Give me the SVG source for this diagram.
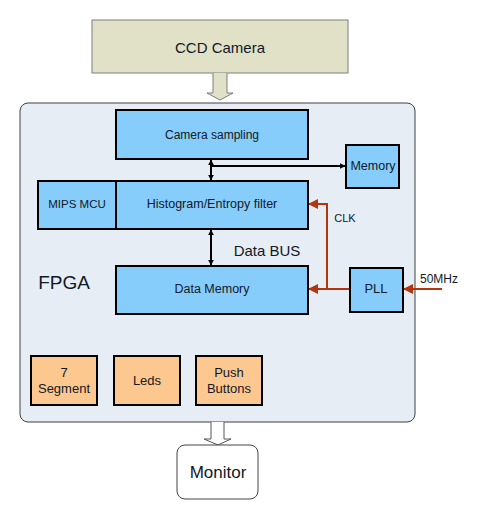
<svg xmlns="http://www.w3.org/2000/svg" width="489" height="507" viewBox="0 0 489 507">
<defs>
<style>
.blk{fill:#87cdfb;stroke:#000;stroke-width:2}
.org{fill:#fdc88f;stroke:#000;stroke-width:2}
.t{font-family:"Liberation Sans",Arial,sans-serif;fill:#111827;text-anchor:middle}
.bl{stroke:#000;stroke-width:2;fill:none}
.rd{stroke:#b3340f;stroke-width:2;fill:none}
</style>
<marker id="ab" viewBox="0 0 10 10" refX="9" refY="5" markerWidth="3" markerHeight="3" orient="auto-start-reverse"><path d="M0,0L10,5L0,10z" fill="#000"/></marker>
<marker id="ar" viewBox="0 0 10 10" refX="9" refY="5" markerWidth="5" markerHeight="5" orient="auto"><path d="M0,0L10,5L0,10z" fill="#b3340f"/></marker>
</defs>
<rect width="489" height="507" fill="#fff"/>
<g id="ccd">
<rect x="92" y="20" width="256" height="53" fill="#e0e1c7" stroke="#7f7f7f" stroke-width="1"/>
<text class="t" x="220" y="53" font-size="15">CCD Camera</text>
</g>
<g id="fpga">
<rect x="20" y="103" width="395" height="319" rx="8" fill="#e6edf5" stroke="#404040" stroke-width="1"/>
<text class="t" x="64" y="289" font-size="19">FPGA</text>
</g>
<g id="connectors">
<path d="M213,73V93H207L220,100L233,93H227V73" fill="#e0e1c7" stroke="#7f7f7f" stroke-width="1"/>
<path d="M211,422V439H204L218,445L231,439H224V422" fill="#fff" stroke="#555" stroke-width="1"/>
<line class="bl" x1="211" y1="160" x2="211" y2="180" marker-start="url(#ab)" marker-end="url(#ab)"/>
<line class="bl" x1="211" y1="166" x2="345" y2="166" marker-end="url(#ab)"/>
<line class="bl" x1="211" y1="230" x2="211" y2="265" marker-start="url(#ab)" marker-end="url(#ab)"/>
<path class="rd" d="M350,289H327V204H309" marker-end="url(#ar)"/>
<path class="rd" d="M327,289H309" marker-end="url(#ar)"/>
<path class="rd" d="M442,289H404" marker-end="url(#ar)"/>
<text class="t" x="345" y="222" font-size="11">CLK</text>
<text class="t" x="439" y="283" font-size="12">50MHz</text>
<text class="t" x="267" y="256" font-size="15">Data BUS</text>
</g>
<g id="camsampling">
<rect class="blk" x="116" y="110" width="192" height="49"/>
<text class="t" x="212" y="139" font-size="12">Camera sampling</text>
</g>
<g id="memory">
<rect class="blk" x="346" y="145" width="53" height="43"/>
<text class="t" x="373" y="170" font-size="12.5">Memory</text>
</g>
<g id="mips">
<rect class="blk" x="38" y="181" width="78" height="48"/>
<text class="t" x="77" y="208" font-size="11.5">MIPS MCU</text>
</g>
<g id="histogram">
<rect class="blk" x="116" y="181" width="192" height="48"/>
<text class="t" x="212" y="208" font-size="12.5">Histogram/Entropy filter</text>
</g>
<g id="datamemory">
<rect class="blk" x="116" y="266" width="192" height="48"/>
<text class="t" x="212" y="293" font-size="12.5">Data Memory</text>
</g>
<g id="pll">
<rect class="blk" x="350" y="268" width="53" height="44"/>
<text class="t" x="376" y="293" font-size="13">PLL</text>
</g>
<g id="seg">
<rect class="org" x="31" y="356" width="66" height="49"/>
<text class="t" x="64" y="377" font-size="13">7</text>
<text class="t" x="64" y="393" font-size="13">Segment</text>
</g>
<g id="leds">
<rect class="org" x="114" y="356" width="66" height="49"/>
<text class="t" x="147" y="385" font-size="13">Leds</text>
</g>
<g id="push">
<rect class="org" x="196" y="356" width="66" height="49"/>
<text class="t" x="229" y="377" font-size="13">Push</text>
<text class="t" x="229" y="393" font-size="13">Buttons</text>
</g>
<g id="monitor">
<rect x="177" y="445" width="81" height="54" rx="8" fill="#fff" stroke="#444" stroke-width="1"/>
<text class="t" x="218" y="478" font-size="17">Monitor</text>
</g>
</svg>
